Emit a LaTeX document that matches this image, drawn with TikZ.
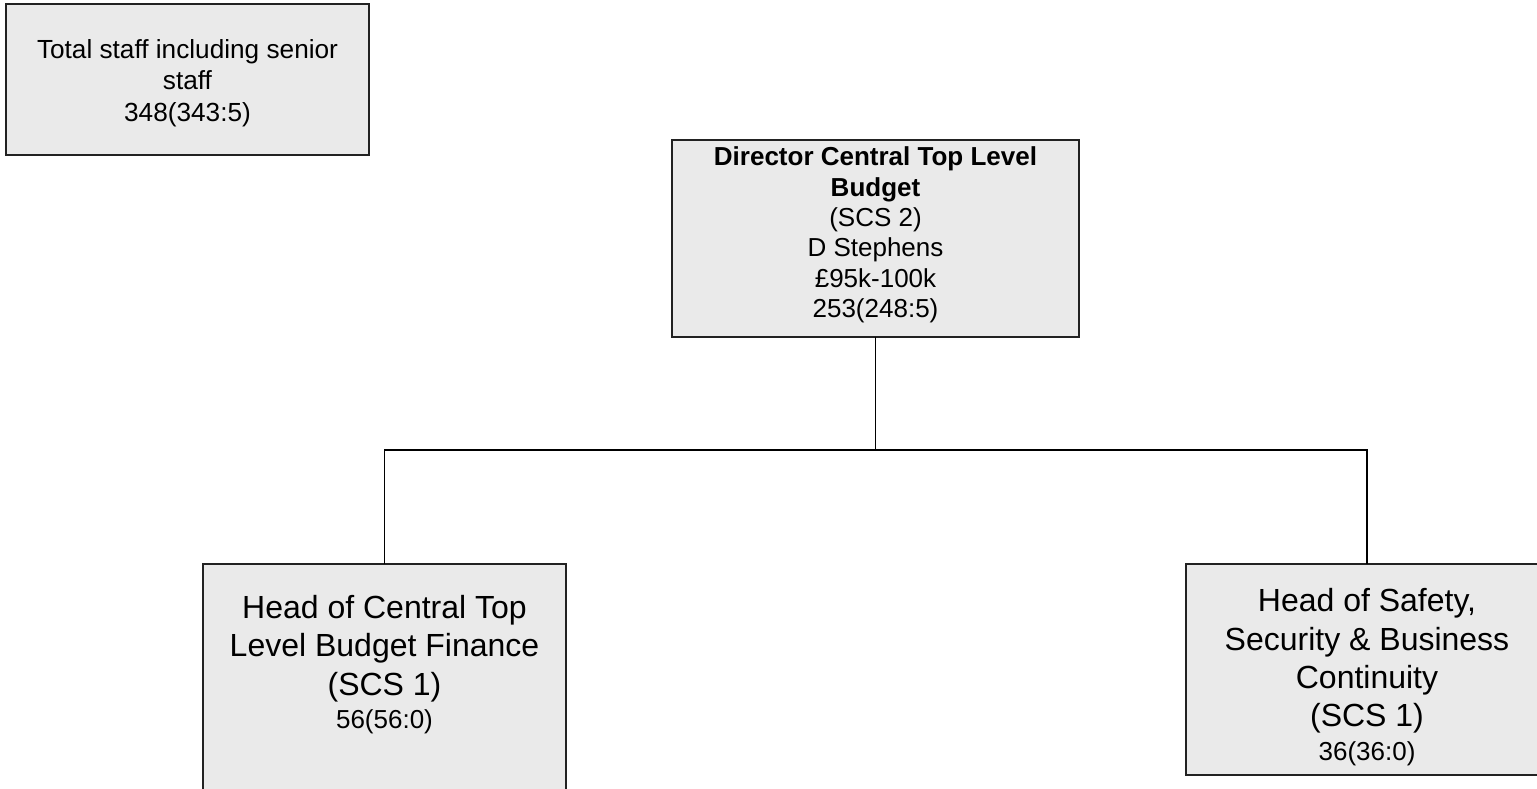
\documentclass[tikz,border=0pt]{standalone}
\usepackage{fontspec}
\setmainfont{Liberation Sans}
\definecolor{boxgray}{HTML}{EAEAEA}
\definecolor{edgegray}{HTML}{222222}
\begin{document}
\begin{tikzpicture}[x=1pt,y=-1pt,
  box/.style={draw=edgegray, line width=1.2pt, fill=boxgray, inner sep=0pt, outer sep=0pt, anchor=north west},
  txt/.style={align=center, inner sep=0pt, text=black},
  small/.style={font=\fontsize{26.2}{31.5}\selectfont},
  large/.style={font=\fontsize{32}{38.3}\selectfont},
  conn/.style={draw=black, line width=1.8pt}]
\useasboundingbox (0,0) rectangle (1537,789);
\clip (0,0) rectangle (1537,789);
% boxes
\node[box, minimum width=363pt, minimum height=151pt] (total) at (6,4) {};
\node[box, minimum width=407pt, minimum height=197pt] (dir) at (672,140) {};
\node[box, minimum width=363pt, minimum height=260pt] (hf) at (203,564) {};
\node[box, minimum width=362pt, minimum height=211pt] (hs) at (1186,564) {};
% texts
\node[txt, small] (ttotal) at (187.5,83) {Total staff including senior\\staff\\348(343:5)};
\node[txt, font=\fontsize{26}{30.4}\selectfont] (tdir) at (875.5,235) {\textbf{Director Central Top Level}\\\textbf{Budget}\\(SCS 2)\\D Stephens\\£95k-100k\\253(248:5)};
\node[txt, large] (thf) at (384.5,664.6) {Head of Central Top\\Level Budget Finance\\(SCS 1)\\[-5pt]{\fontsize{26}{31}\selectfont 56(56:0)}};
\node[txt, large] (ths) at (1367,677) {Head of Safety,\\Security \& Business\\Continuity\\(SCS 1)\\[-5pt]{\fontsize{26}{31}\selectfont 36(36:0)}};
% connectors
\path (0,450) coordinate (lvl);
\coordinate (junction) at (dir.south |- lvl);
\draw[conn] (dir.south) -- (junction);
\draw[conn] (hf.north) |- (junction) -| (hs.north);
\end{tikzpicture}
\end{document}
